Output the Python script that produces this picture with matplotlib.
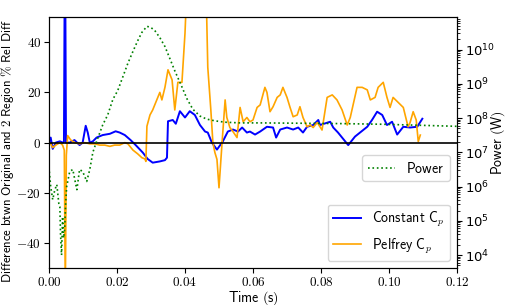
import numpy as np
import matplotlib
matplotlib.use("Agg")
import matplotlib.pyplot as plt
from matplotlib.ticker import FuncFormatter

plt.rcParams['mathtext.fontset'] = 'cm'

# Constant Cp relative difference (%)
t_const = [0.0000, 0.0005, 0.0011, 0.0020, 0.0032, 0.0040, 0.0044, 0.0047, 0.0050, 0.0061,
           0.0075, 0.0090, 0.0099, 0.0108, 0.0114, 0.0120, 0.0129, 0.0140, 0.0158, 0.0179,
           0.0196, 0.0208, 0.0223, 0.0240, 0.0255, 0.0276, 0.0290, 0.0305, 0.0326, 0.0341,
           0.0347, 0.0350, 0.0364, 0.0373, 0.0385, 0.0400, 0.0414, 0.0429, 0.0444, 0.0459,
           0.0467, 0.0479, 0.0494, 0.0511, 0.0526, 0.0541, 0.0556, 0.0568, 0.0582, 0.0591,
           0.0606, 0.0621, 0.0641, 0.0659, 0.0668, 0.0680, 0.0700, 0.0718, 0.0733, 0.0747,
           0.0759, 0.0777, 0.0792, 0.0797, 0.0827, 0.0836, 0.0850, 0.0880, 0.0900, 0.0936,
           0.0950, 0.0965, 0.0980, 0.0994, 0.1009, 0.1024, 0.1042, 0.1062, 0.1083, 0.1098]
d_const = [0, 2, -2.5, 0, 0.5, 0, 0.3, 90, 0, 0,
           1, -1, 0, 6.7, 4, 0, 0.5, 2, 3, 3.5,
           4.5, 4, 3, 1, -1, -4, -6.5, -8, -7.5, -7,
           -6, 8.5, 9, 7.5, 12.5, 10, 12.5, 11, 7, 4.4,
           4, 0, -2.8, 0.4, 4.4, 5.2, 4.4, 6, 4, 4.4,
           3.2, 4.4, 6.3, 6, 2, 5.2, 6, 5.2, 6, 4,
           6.3, 7, 9, 7, 8.3, 6, 4, -1, 2.4, 6.3,
           9, 12.3, 11, 7, 8.3, 3.2, 6.3, 6, 6.3, 9.5]

# Pelfrey Cp relative difference (%)
t_pelf = [0.0000, 0.0005, 0.0011, 0.0020, 0.0032, 0.0040, 0.0045, 0.0048, 0.0051, 0.0055,
          0.0064, 0.0076, 0.0090, 0.0105, 0.0120, 0.0135, 0.0149, 0.0164, 0.0179, 0.0193,
          0.0208, 0.0223, 0.0232, 0.0247, 0.0261, 0.0273, 0.0282, 0.0285, 0.0288, 0.0297,
          0.0305, 0.0317, 0.0326, 0.0332, 0.0341, 0.0350, 0.0362, 0.0370, 0.0379, 0.0391,
          0.0400, 0.0411, 0.0459, 0.0467, 0.0476, 0.0482, 0.0488, 0.0494, 0.0500, 0.0509,
          0.0518, 0.0523, 0.0532, 0.0541, 0.0553, 0.0562, 0.0571, 0.0582, 0.0591, 0.0600,
          0.0612, 0.0621, 0.0635, 0.0641, 0.0650, 0.0659, 0.0671, 0.0680, 0.0688, 0.0700,
          0.0709, 0.0718, 0.0730, 0.0738, 0.0747, 0.0759, 0.0768, 0.0777, 0.0789, 0.0803,
          0.0818, 0.0833, 0.0847, 0.0862, 0.0877, 0.0886, 0.0906, 0.0921, 0.0936, 0.0945,
          0.0959, 0.0968, 0.0983, 0.0994, 0.1003, 0.1012, 0.1027, 0.1042, 0.1056, 0.1062,
          0.1071, 0.1080, 0.1086, 0.1092]
d_pelf = [0, -0.5, -2, -1, 0, -1, -3, -60, -5, 2.8,
          1, 0, -0.5, 0, -0.5, -0.5, -1, -1, -1.5, -1,
          -1, 0, -0.5, -3, -4.5, -6, -6.5, -7.5, 6.5, 11,
          13, 17, 20, 17, 22, 29, 25, 13, 24, 24,
          43.6, 80, 80, 30, 13, 0, -4, -6.7, -18, 0,
          17, 10, 6, 4.4, 2, 14, 8.3, 10, 8.3, 9,
          14, 15, 22, 20, 12.3, 14.3, 18, 19, 22, 18,
          14, 10.3, 11, 14.3, 10, 6.3, 7, 6, 8, 5,
          18, 19, 17, 13, 7, 10, 22, 22, 21, 17,
          18, 22, 24, 18, 14, 18, 16, 14, 6.3, 8,
          12.3, 9, 0.4, 3]

# Power (W), given as log10
t_power = [0.0001, 0.0005, 0.0011, 0.0017, 0.0023, 0.0029, 0.0032, 0.0034, 0.0037, 0.0040,
           0.0043, 0.0046, 0.0049, 0.0052, 0.0061, 0.0070, 0.0076, 0.0082, 0.0090, 0.0099,
           0.0105, 0.0111, 0.0120, 0.0129, 0.0140, 0.0158, 0.0173, 0.0188, 0.0202, 0.0217,
           0.0232, 0.0247, 0.0261, 0.0273, 0.0288, 0.0299, 0.0311, 0.0326, 0.0341, 0.0355,
           0.0370, 0.0391, 0.0406, 0.0423, 0.0444, 0.0464, 0.0488, 0.0518, 0.0562, 0.0621,
           0.0738, 0.0856, 0.0983, 0.1092, 0.1200]
logp = [6.44, 6.0, 5.62, 5.9, 6.06, 5.5, 5.41, 4.6, 4.0, 5.12,
        4.5, 4.74, 5.5, 6.0, 6.44, 6.5, 6.2, 5.91, 6.5, 6.44,
        6.3, 6.15, 6.5, 7.0, 7.32, 7.8, 8.1, 8.55, 8.8, 9.2,
        9.6, 9.95, 10.26, 10.5, 10.68, 10.65, 10.56, 10.35, 10.09, 9.75,
        9.38, 8.91, 8.56, 8.26, 8.06, 7.97, 7.92, 7.88, 7.86, 7.86,
        7.85, 7.84, 7.82, 7.79, 7.76]
power = 10 ** np.array(logp)

fig, ax = plt.subplots(figsize=(5.05, 3.05), dpi=100)
fig.subplots_adjust(left=0.097, right=0.905, top=0.944, bottom=0.121)

l1, = ax.plot(t_const, d_const, color='blue', lw=1.4, label=r'$\mathsf{Constant\ C}_p$')
l2, = ax.plot(t_pelf, d_pelf, color='orange', lw=1.2, label=r'$\mathsf{Pelfrey\ C}_p$')
ax.axhline(0, color='black', lw=1.2)
ax.set_xlim(0, 0.12)
ax.set_ylim(-50, 50)
ax.set_xticks(np.arange(0, 0.121, 0.02))
ax.set_yticks([-40, -20, 0, 20, 40])
ax.xaxis.set_major_formatter(FuncFormatter(lambda v, p: '$%.2f$' % v))
ax.yaxis.set_major_formatter(FuncFormatter(lambda v, p: '$%d$' % round(v)))
ax.tick_params(labelsize=9.5, pad=2)
ax.set_xlabel(r'$\mathsf{Time\ (s)}$', fontsize=10, labelpad=0)
ax.set_ylabel(r'$\mathsf{Difference\ btwn\ Original\ and\ 2\ Region\ \%\ Rel\ Diff}$',
              fontsize=9.2)
ax.yaxis.set_label_coords(-0.08, 0.465)

ax2 = ax.twinx()
l3, = ax2.plot(t_power, power, color='green', ls=':', lw=1.2, label=r'$\mathsf{Power}$')
ax2.set_yscale('log')
ax2.set_ylim(10 ** 3.62, 10 ** 10.95)
ax2.tick_params(labelsize=9.5, pad=2)
ax2.set_ylabel(r'$\mathsf{Power\ (W)}$', fontsize=10)
ax2.yaxis.set_label_coords(1.079, 0.5)

leg1 = ax2.legend(handles=[l3], loc='upper right', bbox_to_anchor=(0.983, 0.45),
                  borderaxespad=0, fontsize=10)
ax2.add_artist(leg1)
ax2.legend(handles=[l1, l2], loc='lower right', fontsize=10)

fig.savefig('out.png', dpi=100)
